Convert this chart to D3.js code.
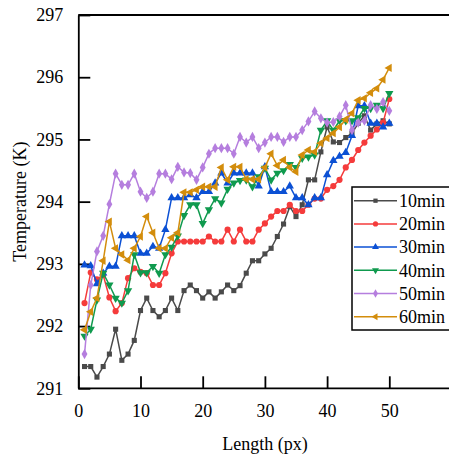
<!DOCTYPE html>
<html>
<head>
    <title>Temperature profile</title>
    <script src="https://cdnjs.cloudflare.com/ajax/libs/d3/7.8.5/d3.min.js"></script>
    <style>
        body { margin: 0; background: #fff; }
        svg text { font-family: 'Liberation Serif', 'Times New Roman', Tinos, 'DejaVu Serif', serif; fill: #000; }
    </style>
</head>
<body>
    <div id="vis"></div>

    <script>
        // values, x = 1..50
        var lengths = d3.range(1, 51);
        var seriesNames = ["10min", "20min", "30min", "40min", "50min", "60min"];
        var xTicks = [0, 10, 20, 30, 40, 50];
        var yTicks = [291, 292, 293, 294, 295, 296, 297];

        var t10 = [291.35, 291.35, 291.18, 291.35, 291.55, 291.95, 291.45, 291.55, 291.77, 292.25,
                   292.45, 292.25, 292.15, 292.25, 292.45, 292.25, 292.57, 292.66, 292.57, 292.45,
                   292.55, 292.45, 292.55, 292.66, 292.57, 292.65, 292.85, 293.05, 293.05, 293.16,
                   293.25, 293.44, 293.64, 293.92, 293.76, 293.95, 294.35, 294.35, 294.8, 295.2,
                   294.96, 294.95, 295.03, 295.1, 295.26, 295.38, 295.15, 295.25, 295.3, 295.25];
        var t20 = [292.37, 292.86, 292.75, 292.82, 292.46, 292.24, 292.37, 292.77, 292.93, 292.87,
                   292.85, 292.66, 292.66, 292.85, 293.17, 293.36, 293.36, 293.36, 293.36, 293.36,
                   293.44, 293.36, 293.36, 293.55, 293.36, 293.55, 293.36, 293.36, 293.55, 293.65,
                   293.76, 293.85, 293.85, 293.95, 293.85, 293.85, 293.95, 294.05, 294.05, 294.19,
                   294.25, 294.35, 294.55, 294.67, 294.83, 294.95, 295.06, 295.16, 295.27, 295.65];
        var t30 = [292.98, 292.97, 292.68, 292.85, 292.96, 292.96, 293.45, 293.45, 293.45, 293.17,
                   293.17, 293.28, 293.25, 293.55, 294.06, 294.06, 294.06, 294.11, 294.06, 294.16,
                   294.16, 294.3, 294.46, 294.3, 294.46, 294.46, 294.46, 294.46, 294.25, 294.56,
                   294.16, 294.16, 294.16, 294.25, 294.06, 294.06, 293.95, 294.06, 294.06, 294.43,
                   294.66, 294.73, 294.79, 295.06, 295.54, 295.54, 295.26, 295.26, 295.2, 295.26];
        var t40 = [291.84, 291.95, 292.42, 292.85, 292.66, 292.45, 292.37, 292.57, 293.15, 292.86,
                   292.86, 292.96, 292.85, 293.15, 293.27, 293.45, 293.78, 293.95, 293.95, 293.65,
                   293.87, 294.05, 293.98, 294.2, 294.3, 294.34, 294.35, 294.24, 294.4, 294.54,
                   294.35, 294.46, 294.5, 294.6, 294.55, 294.7, 294.72, 294.75, 295.15, 295.3,
                   295.15, 295.3, 295.3, 295.3, 295.35, 295.5, 295.5, 295.55, 295.5, 295.74];
        var t50 = [291.55, 292.66, 293.2, 293.45, 293.96, 294.45, 294.27, 294.27, 294.45, 294.16,
                   294.06, 294.16, 294.45, 294.45, 294.36, 294.56, 294.47, 294.46, 294.35, 294.55,
                   294.77, 294.86, 294.86, 294.86, 294.77, 295.04, 294.95, 295.04, 294.86, 294.95,
                   295.04, 295.04, 294.96, 295.04, 295.04, 295.15, 295.29, 295.45, 295.34, 295.27,
                   295.28, 295.37, 295.55, 295.15, 295.27, 295.3, 295.55, 295.49, 295.6, 295.46];
        var t60 = [291.94, 292.23, 292.45, 293.05, 293.68, 293.25, 293.15, 293.06, 293.25, 293.44,
                   293.76, 293.5, 293.25, 293.25, 293.42, 293.5, 294.15, 294.15, 294.19, 294.24,
                   294.24, 294.24, 294.55, 294.35, 294.56, 294.56, 294.36, 294.36, 294.36, 294.55,
                   294.77, 294.58, 294.67, 294.55, 294.48, 294.75, 294.83, 294.8, 294.94, 295.02,
                   295.1, 295.2, 295.32, 295.42, 295.63, 295.66, 295.75, 295.82, 295.96, 296.15];

        var allSeries = [t10, t20, t30, t40, t50, t60];
        var colors = ["#4a4a4a", "#f53b3b", "#0b50d4", "#0f9a4e", "#b57ede", "#d38d0c"];

        // marker shapes: square, circle, up, down, diamond, left triangle
        var shapes = [
            { type: d3.symbolSquare, size: 26, rot: 0 },
            { type: d3.symbolCircle, size: 30, rot: 0 },
            { type: d3.symbolTriangle, size: 30, rot: 0 },
            { type: d3.symbolTriangle, size: 30, rot: 180 },
            { type: d3.symbolDiamond, size: 30, rot: 0 },
            { type: d3.symbolTriangle, size: 30, rot: -90 }
        ];

        var W = 449, H = 460;
        var svg = d3.select("#vis").append("svg")
            .attr("width", W)
            .attr("height", H);

        var x = d3.scaleLinear().domain([0, 60]).range([78.3, 451.5]);
        var y = d3.scaleLinear().domain([291, 297]).range([388.3, 15]);

        // frame (top + right edges)
        svg.append("line")
            .attr("x1", x(0)).attr("x2", x(60))
            .attr("y1", y(297)).attr("y2", y(297))
            .attr("stroke", "#000").attr("stroke-width", 1.8);
        svg.append("line")
            .attr("x1", x(60)).attr("x2", x(60))
            .attr("y1", y(291)).attr("y2", y(297))
            .attr("stroke", "#000").attr("stroke-width", 1.8);

        var xAxis = svg.append("g")
            .attr("transform", "translate(0," + y(291) + ")")
            .call(d3.axisBottom(x).tickValues(xTicks).tickFormat(d3.format("d"))
                .tickSizeInner(-12).tickSizeOuter(0).tickPadding(16));
        var yAxis = svg.append("g")
            .attr("transform", "translate(" + x(0) + ",0)")
            .call(d3.axisLeft(y).tickValues(yTicks).tickFormat(d3.format("d"))
                .tickSizeInner(-12).tickSizeOuter(0).tickPadding(15));

        // the axis domain only goes to the last tick; stretch it across
        xAxis.select(".domain").attr("d", "M" + x(0) + ",0H" + x(60));

        [xAxis, yAxis].forEach(function(a) {
            a.attr("font-family", null).attr("font-size", null);
            a.selectAll("path, line").attr("stroke", "#000").attr("stroke-width", 1.8);
            a.selectAll("text").style("font-size", "18px").attr("fill", "#000");
        });

        svg.append("text")
            .attr("x", (x(0) + x(60)) / 2)
            .attr("y", 450)
            .attr("text-anchor", "middle")
            .style("font-size", "18px")
            .text("Length (px)");

        svg.append("text")
            .attr("transform", "translate(26," + (y(291) + y(297)) / 2 + ") rotate(-90)")
            .attr("text-anchor", "middle")
            .style("font-size", "18px")
            .text("Temperature (K)");

        var line = d3.line()
            .x(function(d, i) { return x(lengths[i]); })
            .y(function(d) { return y(d); });

        function symbolPath(k, scale) {
            return d3.symbol().type(shapes[k].type).size(shapes[k].size * (scale || 1))();
        }

        allSeries.forEach(function(vals, k) {
            var g = svg.append("g");
            g.append("path")
                .datum(vals)
                .attr("d", line)
                .attr("fill", "none")
                .attr("stroke", colors[k])
                .attr("stroke-width", 1.5);
            g.selectAll("path.m")
                .data(vals)
                .enter().append("path")
                .attr("class", "m")
                .attr("d", symbolPath(k))
                .attr("transform", function(d, i) {
                    return "translate(" + x(lengths[i]) + "," + y(d) + ") rotate(" + shapes[k].rot + ")";
                })
                .attr("fill", colors[k]);
        });

        // legend
        var lg = svg.append("g");
        lg.append("rect")
            .attr("x", 352).attr("y", 187)
            .attr("width", 120).attr("height", 143)
            .attr("fill", "#fff")
            .attr("stroke", "#000")
            .attr("stroke-width", 1.5);

        seriesNames.forEach(function(name, k) {
            var ry = 200.7 + k * 23.2;
            lg.append("line")
                .attr("x1", 354).attr("x2", 397)
                .attr("y1", ry).attr("y2", ry)
                .attr("stroke", colors[k]).attr("stroke-width", 1.5);
            lg.append("path")
                .attr("d", symbolPath(k, 0.7))
                .attr("transform", "translate(375.5," + ry + ") rotate(" + shapes[k].rot + ")")
                .attr("fill", colors[k]);
            lg.append("text")
                .attr("x", 399).attr("y", ry)
                .attr("dy", "0.35em")
                .style("font-size", "18px")
                .text(name);
        });
    </script>
</body>
</html>
